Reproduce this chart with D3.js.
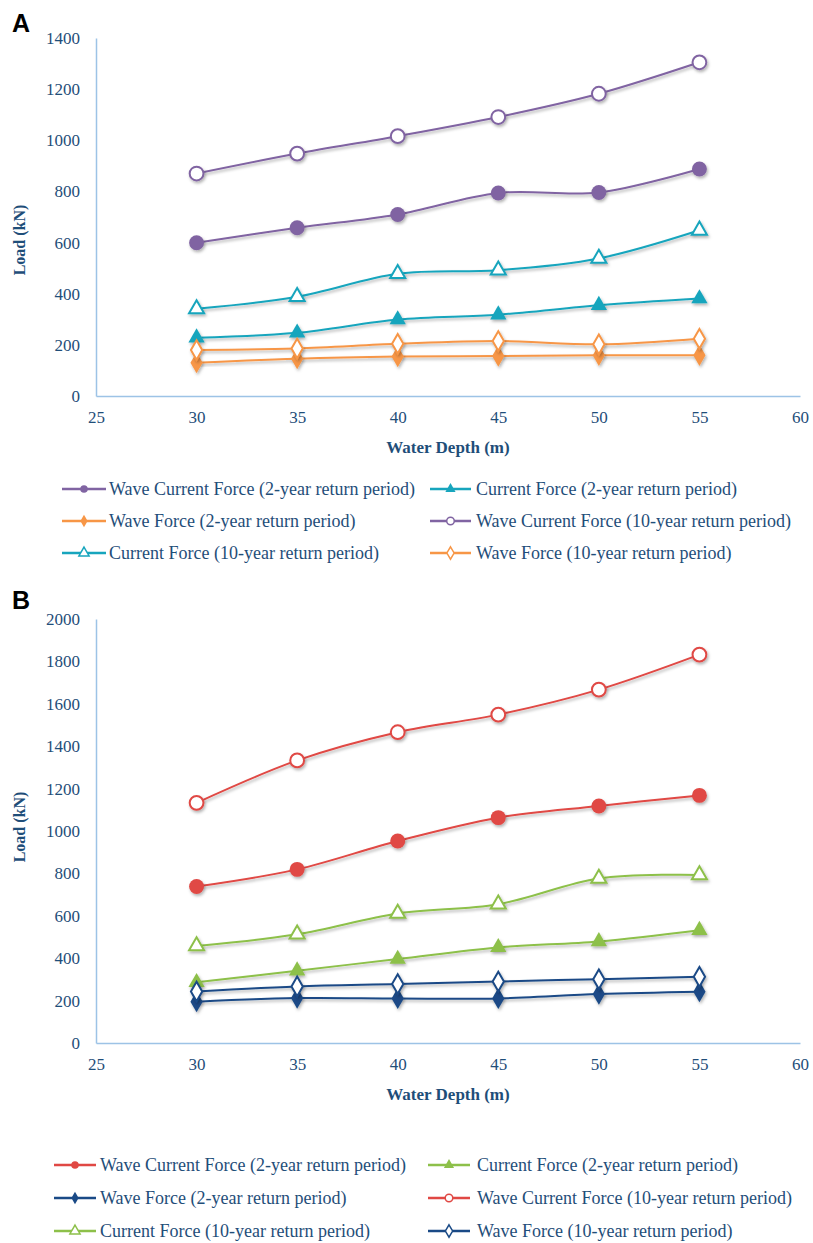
<!DOCTYPE html>
<html>
<head>
<meta charset="utf-8">
<script src="https://cdn.jsdelivr.net/npm/d3@7"></script>
<style>
  body { margin: 0; background: #fff; }
  svg { display: block; }
</style>
</head>
<body>
<svg id="chart" width="813" height="1243"></svg>
<script>
/* DATA */
const depths = [30, 35, 40, 45, 50, 55];
const xTicks = [25, 30, 35, 40, 45, 50, 55, 60];
const yTicksA = [0, 200, 400, 600, 800, 1000, 1200, 1400];
const yTicksB = [0, 200, 400, 600, 800, 1000, 1200, 1400, 1600, 1800, 2000];

// panel A, load in kN
const aWaveCurrent2 = [599, 658, 710, 794, 796, 888];
const aCurrent2 = [228, 247, 299, 318, 355, 381];
const aWave2 = [130, 146, 154, 156, 159, 159];
const aWaveCurrent10 = [870, 948, 1016, 1091, 1182, 1305];
const aCurrent10 = [341, 388, 478, 492, 538, 648];
const aWave10 = [180, 186, 204, 215, 202, 224];

// panel B, load in kN
const bWaveCurrent2 = [738, 819, 953, 1063, 1118, 1168];
const bCurrent2 = [286, 341, 396, 451, 479, 532];
const bWave2 = [195, 212, 210, 210, 231, 242];
const bWaveCurrent10 = [1133, 1333, 1466, 1549, 1667, 1832];
const bCurrent10 = [458, 513, 611, 655, 776, 793];
const bWave10 = [243, 267, 278, 290, 301, 312];

const seriesNames = [
  "Wave Current Force (2-year return period)",
  "Current Force (2-year return period)",
  "Wave Force (2-year return period)",
  "Wave Current Force (10-year return period)",
  "Current Force (10-year return period)",
  "Wave Force (10-year return period)"
];
const shapes = ["circle", "triangle", "diamond", "circle", "triangle", "diamond"];
const hollow = [false, false, false, true, true, true];

const colorsA = ["#8064a2", "#17a5bd", "#f79646", "#8064a2", "#17a5bd", "#f79646"];
const colorsB = ["#e04844", "#8dc04a", "#1a4a86", "#e04844", "#8dc04a", "#1a4a86"];

/* SETUP */
const textColor = "#1f4e79";
const axisColor = "#9dc3e6";
const serif = "'Liberation Serif', 'Times New Roman', serif";
const svg = d3.select("#chart");

const defs = svg.append("defs");
const shadow = defs.append("filter").attr("id", "shadow")
  .attr("x", "-50%").attr("y", "-50%").attr("width", "200%").attr("height", "200%");
shadow.append("feDropShadow")
  .attr("dx", 1.2).attr("dy", 2).attr("stdDeviation", 1.4)
  .attr("flood-color", "#000").attr("flood-opacity", 0.3);

function symbolPath(shape, size) {
  const type = shape === "circle" ? d3.symbolCircle
    : shape === "triangle" ? d3.symbolTriangle : d3.symbolDiamond;
  return d3.symbol().type(type).size(size)();
}

function panel(opts) {
  const g = svg.append("g");

  const x = d3.scaleLinear().domain([25, 60]).range([96, 800]);
  const y = d3.scaleLinear().domain([0, opts.yMax]).range([opts.y0, opts.y1]);

  // panel letter
  g.append("text")
    .attr("x", 12).attr("y", opts.letterY)
    .style("font-family", "'Liberation Sans', Arial, sans-serif")
    .style("font-weight", "bold").style("font-size", "25px")
    .text(opts.letter);

  // axes
  const yAxis = g.append("g")
    .attr("transform", "translate(96,0)")
    .call(d3.axisLeft(y).tickValues(opts.yTicks).tickFormat(d3.format("d"))
      .tickSize(0).tickSizeOuter(0).tickPadding(16));
  const xAxis = g.append("g")
    .attr("transform", `translate(0,${opts.y0})`)
    .call(d3.axisBottom(x).tickValues(xTicks).tickFormat(d3.format("d"))
      .tickSize(0).tickSizeOuter(0).tickPadding(15));
  [yAxis, xAxis].forEach(a => {
    a.attr("font-family", null).attr("font-size", null);
    a.select(".domain").attr("stroke", axisColor).attr("stroke-width", 1.5);
    a.selectAll("text")
      .style("fill", textColor)
      .style("font-family", serif)
      .style("font-size", "17px");
  });

  // axis titles
  g.append("text")
    .attr("x", 448).attr("y", opts.y0 + 57)
    .attr("text-anchor", "middle")
    .style("font-family", serif)
    .style("font-weight", "bold").style("font-size", "17px")
    .style("fill", textColor)
    .text("Water Depth (m)");
  g.append("text")
    .attr("transform", `translate(25,${opts.titleY}) rotate(-90)`)
    .attr("text-anchor", "middle")
    .style("font-family", serif)
    .style("font-weight", "bold").style("font-size", "16px")
    .style("fill", textColor)
    .text("Load (kN)");

  // lines and markers
  const line = d3.line()
    .x((d, i) => x(depths[i]))
    .y(d => y(d))
    .curve(d3.curveCatmullRom.alpha(0));

  opts.series.forEach((vals, s) => {
    const col = opts.colors[s];
    g.append("path")
      .datum(vals)
      .attr("d", line)
      .attr("fill", "none")
      .attr("stroke", col)
      .attr("stroke-width", 2)
      .attr("filter", "url(#shadow)");

    const size = shapes[s] === "circle" ? 175 : shapes[s] === "triangle" ? 115 : 130;
    g.selectAll(null)
      .data(vals)
      .join("path")
      .attr("transform", (d, i) => `translate(${x(depths[i])},${y(d)})`)
      .attr("d", symbolPath(shapes[s], hollow[s] ? size * 0.85 : size))
      .attr("fill", hollow[s] ? "#fff" : col)
      .attr("stroke", col)
      .attr("stroke-width", hollow[s] ? 2 : 0)
      .attr("filter", "url(#shadow)");
  });

  // legend
  const lg = g.append("g");
  seriesNames.forEach((name, s) => {
    const col = s % 2 === 0 ? opts.legend.col1 : opts.legend.col2;
    const ly = opts.legend.rows[Math.floor(s / 2)];
    const row = lg.append("g");
    row.append("line")
      .attr("x1", col.x1).attr("x2", col.x2)
      .attr("y1", ly).attr("y2", ly)
      .attr("stroke", opts.colors[s]).attr("stroke-width", 2.5);
    row.append("path")
      .attr("transform", `translate(${(col.x1 + col.x2) / 2},${ly})`)
      .attr("d", symbolPath(shapes[s], 45))
      .attr("fill", hollow[s] ? "#fff" : opts.colors[s])
      .attr("stroke", opts.colors[s])
      .attr("stroke-width", hollow[s] ? 1.5 : 0);
    row.append("text")
      .attr("x", col.tx).attr("y", ly)
      .attr("dy", "0.35em")
      .style("font-family", serif)
      .style("font-size", "18px")
      .style("fill", textColor)
      .text(name);
  });
}

panel({
  letter: "A", letterY: 32,
  yMax: 1400, yTicks: yTicksA, y0: 396, y1: 38, titleY: 240,
  colors: colorsA,
  series: [aWaveCurrent2, aCurrent2, aWave2, aWaveCurrent10, aCurrent10, aWave10],
  legend: {
    rows: [489, 521, 553],
    col1: { x1: 62, x2: 106, tx: 109 },
    col2: { x1: 430, x2: 471, tx: 476 }
  }
});

panel({
  letter: "B", letterY: 609,
  yMax: 2000, yTicks: yTicksB, y0: 1043, y1: 619, titleY: 827,
  colors: colorsB,
  series: [bWaveCurrent2, bCurrent2, bWave2, bWaveCurrent10, bCurrent10, bWave10],
  legend: {
    rows: [1165, 1198, 1231],
    col1: { x1: 54, x2: 96, tx: 100 },
    col2: { x1: 428, x2: 470, tx: 477 }
  }
});
</script>
</body>
</html>
